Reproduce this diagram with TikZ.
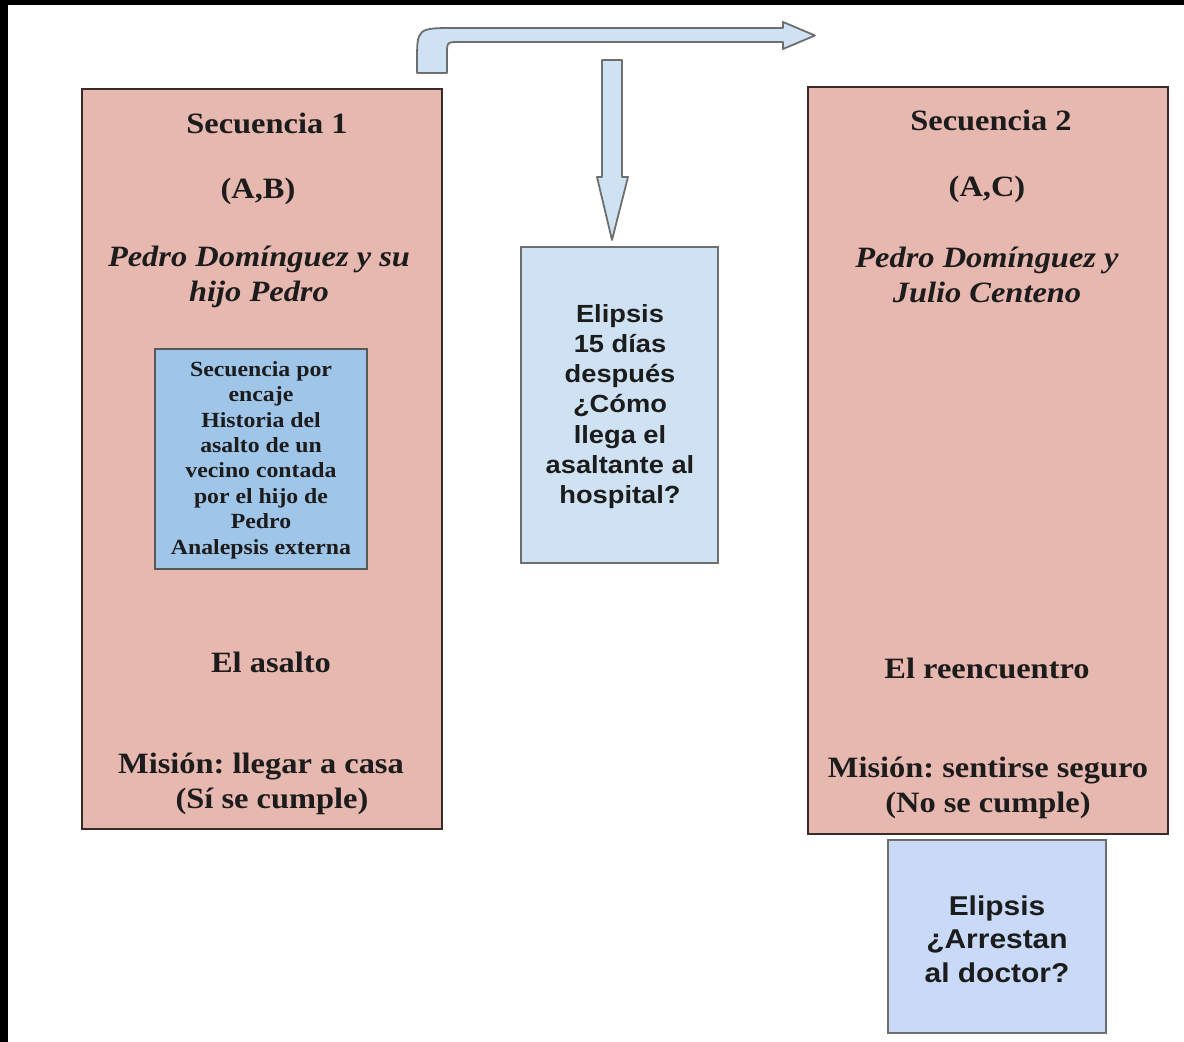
\documentclass[tikz,border=0pt]{standalone}
\usepackage{fontspec}
\setmainfont{Liberation Serif}[FakeStretch=1.1]
\newfontfamily\sansb{Liberation Sans}[FakeStretch=1.1]
\frenchspacing
\definecolor{pinkfill}{HTML}{E6B8AF}
\definecolor{pinkdraw}{HTML}{3A2A28}
\definecolor{midfill}{HTML}{CFE2F3}
\definecolor{innerfill}{HTML}{9FC5E8}
\definecolor{botfill}{HTML}{C9DAF8}
\definecolor{greydraw}{HTML}{6E6E6E}
\definecolor{txt}{HTML}{1C1C1C}
\tikzset{
  seqbox/.style={draw=pinkdraw, fill=pinkfill, line width=1pt, inner sep=0pt, minimum width=180pt},
  midbox/.style={draw=greydraw, fill=midfill, line width=0.9pt, inner sep=0pt},
  innerbox/.style={draw=greydraw!80!black, fill=innerfill, line width=0.9pt, inner sep=0pt},
  botbox/.style={draw=greydraw, fill=botfill, line width=0.9pt, inner sep=0pt},
  blockarrow/.style={draw=greydraw, fill=midfill, line width=0.9pt, line join=round},
  lbl/.style={inner sep=0pt, text=txt, font=\fontsize{14.75}{17.5}\selectfont\bfseries},
  lbli/.style={lbl, font=\fontsize{14.75}{17.5}\selectfont\bfseries\itshape, align=center},
  innertxt/.style={inner sep=0pt, text=txt, align=center, font=\fontsize{10.8}{12.7}\selectfont\bfseries},
  midtxt/.style={inner sep=0pt, text=txt, align=center, font=\sansb\fontsize{12.4}{15.1}\selectfont\bfseries},
  bottxt/.style={inner sep=0pt, text=txt, align=center, font=\sansb\fontsize{13.6}{16.75}\selectfont\bfseries}
}
\begin{document}
\begin{tikzpicture}[x=0.5pt, y=-0.5pt]
\useasboundingbox (0,0) rectangle (1184,1042);
\fill[white] (0,0) rectangle (1184,1042);
\fill[black] (0,0) rectangle (1184,5);
\fill[black] (0,0) rectangle (8,1042);

% bent arrow
\path[blockarrow] (417,73) -- (417,62) .. controls (417,28) .. (456,28) -- (783,28) -- (783,22) -- (815,35.5) -- (783,49) -- (783,42)
  -- (460,42) .. controls (447,42) .. (447,54) -- (447,73) -- cycle;
% down arrow
\path[blockarrow] (602,60) -- (622,60) -- (622,177) -- (628,177) -- (612,240) -- (597,177) -- (602,177) -- cycle;

% boxes
\node[seqbox, minimum height=370pt] (s1) at (262,459) {};
\node[seqbox, minimum height=373.5pt] (s2) at (988,460.5) {};
\node[midbox, minimum width=98.5pt, minimum height=158pt] (mid) at (619.5,405) {};
\node[innerbox, minimum width=106pt, minimum height=110pt] (inner) at (261,459) {};
\node[botbox, minimum width=109pt, minimum height=96.5pt] (bot) at (997,936.5) {};

% sequence 1 text
\node[lbl] (t1a) at (267,123) {Secuencia 1};
\node[lbl] (t1b) at (258,191) {(A,B)};
\node[lbli] (t1c) at (259,277) {Pedro Domínguez y su\\hijo Pedro};
\node[innertxt] (t1d) at (261,460) {Secuencia por\\encaje\\Historia del\\asalto de un\\vecino contada\\por el hijo de\\Pedro\\Analepsis externa};
\node[lbl] (t1e) at (271,662) {El asalto};
\node[lbl] (t1f) at (261,767) {Misión: llegar a casa};
\node[lbl] (t1g) at (272,801) {(Sí se cumple)};

% middle text
\node[midtxt] (tm) at (620,406.5) {Elipsis\\15 días\\después\\¿Cómo\\llega el\\asaltante al\\hospital?};

% sequence 2 text
\node[lbl] (t2a) at (991,120) {Secuencia 2};
\node[lbl] (t2b) at (987,189) {(A,C)};
\node[lbli] (t2c) at (987,274.5) {Pedro Domínguez y\\Julio Centeno};
\node[lbl] (t2e) at (987,668) {El reencuentro};
\node[lbl] (t2f) at (988,771) {Misión: sentirse seguro};
\node[lbl] (t2g) at (988,805) {(No se cumple)};

% bottom text
\node[bottxt] (tb) at (997,939) {Elipsis\\¿Arrestan\\al doctor?};
\end{tikzpicture}
\end{document}
